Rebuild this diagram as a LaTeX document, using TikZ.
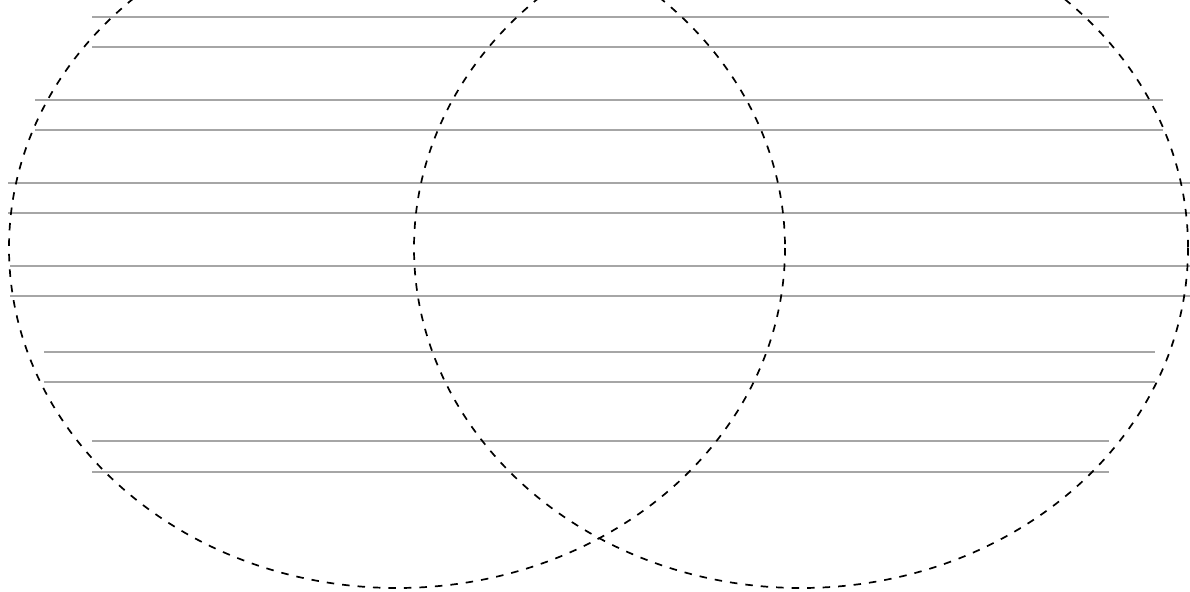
\documentclass[tikz,border=0pt]{standalone}
\begin{document}
\begin{tikzpicture}[x=1pt,y=-1pt,
  vennset/.style={draw=black,line width=1.7pt,dash pattern=on 7.5pt off 8pt},
  writeline/.style={draw=black!35,line width=1.2pt}]
\useasboundingbox (0,0) rectangle (1190,591);
\begin{scope}
\clip (0,0) rectangle (1190,591);
% writing lines
\foreach \ya/\xa/\xb in {17/92/1109, 47/92/1109, 100/35/1163, 130/35/1163, 183/8/1190, 213/8/1190, 266/10/1190, 296/10/1190, 352/44/1155, 382/44/1155, 441/92/1109, 472/92/1109}
  \draw[writeline] (\xa,\ya) -- (\xb,\ya);
% sets
\draw[vennset] (397,248) ellipse [x radius=388, y radius=340];
\draw[vennset] (801,248) ellipse [x radius=387, y radius=340];
\end{scope}
\end{tikzpicture}
\end{document}
